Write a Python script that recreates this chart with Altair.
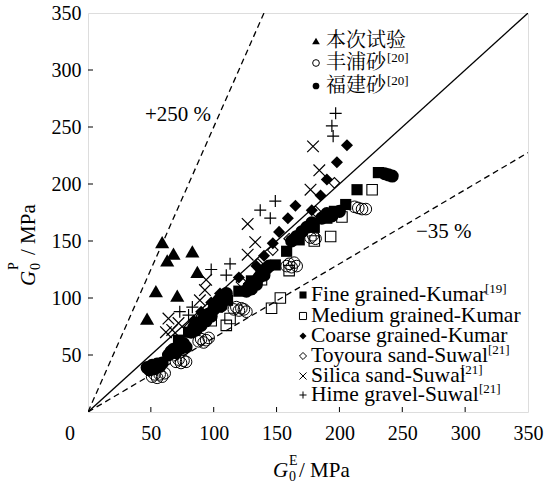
import altair as alt
import pandas as pd

# ---------------- measured values (G0^E, G0^P in MPa) ----------------
test_x = [59, 68, 63, 83, 87, 54, 71, 47]
test_y = [149, 139, 133, 141, 123, 106, 102, 82]

toyoura_x = [51, 53, 55, 57, 59, 61, 70, 72, 74, 76, 78, 88, 90, 92, 94, 96,
             116, 118, 120, 122, 124, 126, 158, 160, 162, 164, 166, 177, 179, 181,
             212, 215, 218, 221]
toyoura_y = [31, 33, 30, 33, 31, 34, 44, 46, 43, 45, 44, 62, 64, 61, 63, 65,
             90, 92, 89, 91, 90, 88, 128, 130, 127, 131, 128, 153, 155, 152,
             180, 179, 178, 178]

fujian_x = [47, 49, 51, 53, 55, 57, 59, 64, 66, 68, 70, 72, 74, 76, 78,
            82, 84, 86, 88, 90, 92, 94, 96, 98, 100, 102, 104, 106, 108, 110,
            126, 128, 130, 132, 134, 136, 138, 140, 142, 144,
            162, 166, 170, 174, 178, 186, 190, 194, 200, 236, 239, 242]
fujian_y = [39, 37, 41, 38, 42, 40, 43, 50, 53, 55, 52, 58, 56, 60, 57,
            70, 74, 72, 78, 76, 82, 80, 86, 84, 90, 94, 98, 93, 100, 104,
            106, 110, 108, 114, 112, 118, 122, 120, 126, 128,
            150, 154, 158, 162, 166, 170, 174, 172, 176, 209, 208, 207]

fine_x = [231, 214, 205, 196, 190, 180, 168, 158, 149, 140, 130, 120, 111, 103, 95, 88, 80, 72]
fine_y = [210, 195, 182, 176, 170, 162, 151, 141, 129, 124, 115, 106, 98, 92, 84, 78, 70, 63]

medium_x = [226, 202, 193, 180, 160, 138, 153, 146, 113, 110, 128, 98]
medium_y = [195, 171, 154, 150, 124, 116, 100, 91, 82, 76, 108, 80]

coarse_x = [206, 198, 190, 185, 178, 165, 159, 152, 147, 140, 134, 120, 105, 98, 90, 84]
coarse_y = [234, 219, 204, 190, 177, 181, 170, 158, 148, 137, 128, 118, 104, 96, 88, 80]

suwal_toyoura_x = [196, 181, 160, 147, 135, 122, 110, 100, 90, 80]
suwal_toyoura_y = [201, 176, 152, 142, 130, 114, 104, 94, 84, 74]

silica_x = [179, 184, 177, 127, 133, 127, 94, 93, 89, 64, 72, 67, 62]
silica_y = [233, 212, 195, 165, 149, 138, 116, 107, 98, 82, 78, 72, 70]

hime_x = [197, 194, 195, 149, 137, 145, 113, 98, 110, 83, 73, 80]
hime_y = [262, 251, 242, 185, 177, 170, 130, 125, 120, 92, 88, 85]

# reference lines: G0P = k * G0E
line_ratios = [1.0, 2.5, 0.65]
axis_ticks = [0, 50, 100, 150, 200, 250, 300, 350]
inner_ticks = [50, 100, 150, 200, 250, 300]

# ---------------- styling ----------------
SERIF = "Liberation Serif, Times New Roman, serif"
CJK = "Noto Serif CJK SC, Noto Sans CJK SC"
W, H = 440, 399
LEFT, TOP = 88, 13

XS = alt.Scale(domain=[0, 350], nice=False, zero=False)
YS = alt.Scale(domain=[0, 350], nice=False, zero=False)
X_AXIS = alt.Axis(values=axis_ticks, title=None, ticks=False, domain=False, grid=False,
                  labelFont=SERIF, labelFontSize=20, labelColor="black", labelPadding=11,
                  labelExpr="datum.value == 0 ? '' : datum.label", labelFlush=False)
Y_AXIS = alt.Axis(values=axis_ticks, title=None, ticks=False, domain=False, grid=False,
                  labelFont=SERIF, labelFontSize=20, labelColor="black", labelPadding=7,
                  labelExpr="datum.value == 0 ? '' : datum.label", labelFlush=False)

CROSS = "M-1,-1L1,1M-1,1L1,-1"
PLUS = "M-1,0L1,0M0,-1L0,1"


def xenc(field="x"):
    return alt.X(f"{field}:Q", scale=XS, axis=X_AXIS)


def yenc(field="y"):
    return alt.Y(f"{field}:Q", scale=YS, axis=Y_AXIS)


def scatter(xv, yv, shape, filled, size, sw=1.0):
    df = pd.DataFrame({"x": xv, "y": yv})
    return alt.Chart(df).mark_point(shape=shape, filled=filled, size=size, color="black",
                                    strokeWidth=sw, opacity=1).encode(x=xenc(), y=yenc())


one = pd.DataFrame({"k": [0]})


def label(text, px, py, size=21, font=SERIF, align="left", style="normal", angle=0):
    # px, py are page pixels; converted to view coordinates
    return alt.Chart(one).mark_text(text=text, font=font, fontSize=size, align=align,
                                    baseline="middle", fontStyle=style, angle=angle,
                                    color="black").encode(
        x=alt.value(px - LEFT), y=alt.value(py - TOP))


def symbol(shape, filled, size, px, py, sw=1.0):
    return alt.Chart(one).mark_point(shape=shape, filled=filled, size=size, color="black",
                                     strokeWidth=sw, opacity=1).encode(
        x=alt.value(px - LEFT), y=alt.value(py - TOP))


layers = []

# reference lines
for r in line_ratios:
    df = pd.DataFrame({"x": [0, 350], "y": [0, 350 * r]})
    kw = {} if r == 1.0 else {"strokeDash": [6, 4]}
    layers.append(alt.Chart(df).mark_line(color="black", strokeWidth=1.3, clip=True, **kw)
                  .encode(x=xenc(), y=yenc()))

# inward tick marks
tick_df = pd.DataFrame({"t": inner_ticks})
layers.append(alt.Chart(tick_df).mark_rule(color="black", strokeWidth=1).encode(
    x=xenc("t"), y=alt.value(H), y2=alt.value(H - 5)))
layers.append(alt.Chart(tick_df).mark_rule(color="black", strokeWidth=1).encode(
    y=yenc("t"), x=alt.value(0), x2=alt.value(5)))

# data series
layers += [
    scatter(medium_x, medium_y, "square", False, 110, 1.1),
    scatter(suwal_toyoura_x, suwal_toyoura_y, "diamond", False, 110, 1.1),
    scatter(toyoura_x, toyoura_y, "circle", False, 135, 1.0),
    scatter(fujian_x, fujian_y, "circle", True, 170),
    scatter(fine_x, fine_y, "square", True, 125),
    scatter(coarse_x, coarse_y, "diamond", True, 145),
    scatter(silica_x, silica_y, CROSS, False, 135, 1.2),
    scatter(hime_x, hime_y, PLUS, False, 145, 1.2),
    scatter(test_x, test_y, "triangle-up", True, 200),
]

# origin label shared by both axes
layers.append(alt.Chart(pd.DataFrame({"x": [0], "y": [0]})).mark_text(
    text="0", font=SERIF, fontSize=20, dx=-18, dy=22, color="black").encode(x=xenc(), y=yenc()))

# band annotations
layers.append(label("+250 %", 145, 115))
layers.append(label("\u221235 %", 416, 232))

# legend: this study and literature sands
cn_rows = [("triangle-up", True, "本次试验", None, 41),
           ("circle", False, "丰浦砂", "[20]", 63),
           ("circle", True, "福建砂", "[20]", 86)]
for shp, fil, txt, sup, py in cn_rows:
    layers.append(symbol(shp, fil, 60 if shp == "triangle-up" else 45, 316, py))
    layers.append(label(txt, 326, py, size=20, font=CJK))
    if sup:
        layers.append(label(sup, 387, py - 5, size=13))

# legend: published data
en_rows = [("square", True, "Fine grained-Kumar", "[19]", 295, 485),
           ("square", False, "Medium grained-Kumar", None, 316, 0),
           ("diamond", True, "Coarse grained-Kumar", None, 336, 0),
           ("diamond", False, "Toyoura sand-Suwal", "[21]", 356, 488),
           (CROSS, False, "Silica sand-Suwal", "[21]", 376, 461),
           (PLUS, False, "Hime gravel-Suwal", "[21]", 395, 479)]
for shp, fil, txt, sup, py, sx in en_rows:
    layers.append(symbol(shp, fil, 50, 303, py, 1.0))
    layers.append(label(txt, 311, py, size=21.5))
    if sup:
        layers.append(label(sup, sx, py - 6, size=13))

# axis titles with sub/superscripts
layers += [
    label("G", 273, 471, style="italic"),
    label("0", 289, 477, size=14),
    label("E", 289, 461, size=14),
    label("/ MPa", 299, 471),
    label("G", 29, 286, style="italic", angle=270),
    label("0", 36, 270, size=14, angle=270),
    label("P", 14, 270, size=14, angle=270),
    label("/ MPa", 29, 255, angle=270),
]

chart = alt.layer(*layers).properties(
    width=W, height=H,
    autosize=alt.AutoSizeParams(type="none"),
    padding={"left": LEFT, "top": TOP, "right": 546 - LEFT - W, "bottom": 482 - TOP - H},
).configure_view(stroke="black", strokeWidth=1.2).configure(background="white")

chart.save("out.html", embed_options={"renderer": "svg", "actions": False})
